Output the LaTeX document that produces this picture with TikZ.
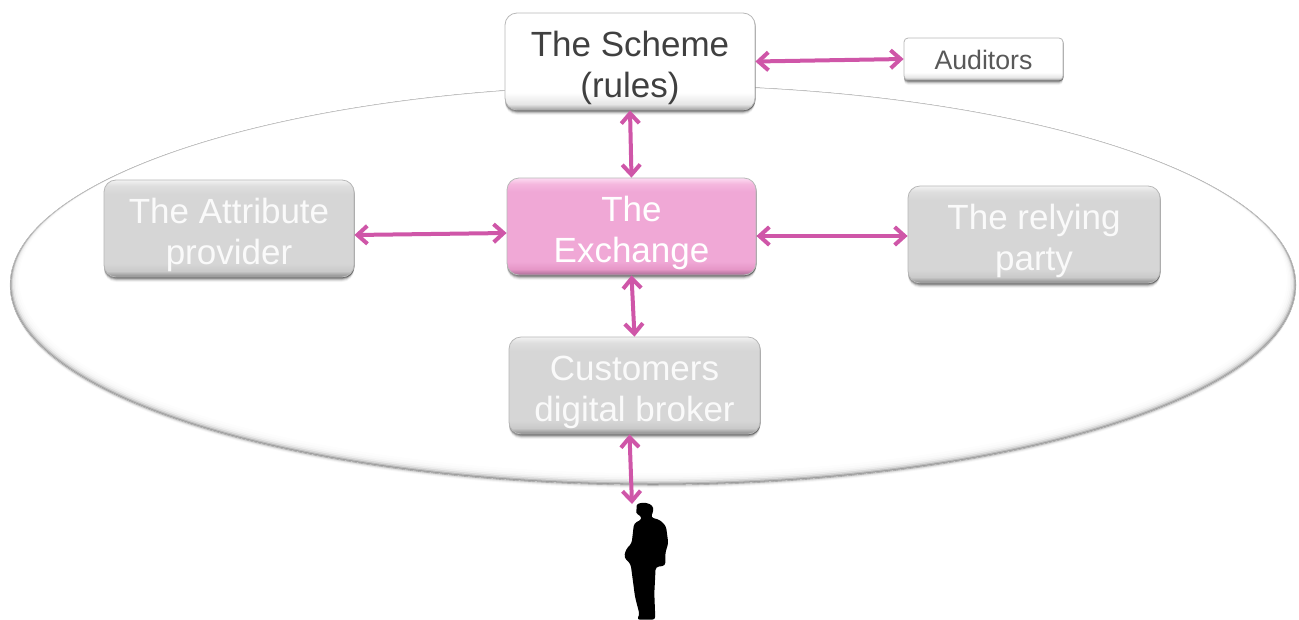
\documentclass[tikz,border=0pt]{standalone}
\usepackage{fontspec}
\setmainfont{Liberation Sans}
\usetikzlibrary{arrows.meta,calc,shadows}
\definecolor{arrowpink}{HTML}{CF56A8}
\pgfdeclareverticalshading{grayface}{100bp}{rgb(0bp)=(.50,.50,.50);rgb(25bp)=(.50,.50,.50);rgb(26bp)=(.62,.62,.62);rgb(28bp)=(.79,.79,.79);rgb(32bp)=(.84,.84,.84);rgb(68bp)=(.84,.84,.84);rgb(72bp)=(.87,.87,.87);rgb(75bp)=(.95,.95,.95);rgb(100bp)=(.95,.95,.95)}
\pgfdeclareverticalshading{pinkface}{100bp}{rgb(0bp)=(.58,.38,.52);rgb(25bp)=(.58,.38,.52);rgb(26bp)=(.74,.48,.65);rgb(28bp)=(.90,.59,.78);rgb(32bp)=(.94,.66,.84);rgb(68bp)=(.94,.66,.84);rgb(72bp)=(.96,.72,.87);rgb(75bp)=(.99,.86,.95);rgb(100bp)=(.99,.86,.95)}
\pgfdeclareverticalshading{whiteface}{100bp}{rgb(0bp)=(.58,.58,.58);rgb(25bp)=(.58,.58,.58);rgb(26bp)=(.72,.72,.72);rgb(28bp)=(.90,.90,.90);rgb(34bp)=(1,1,1);rgb(75bp)=(1,1,1);rgb(100bp)=(1,1,1)}
\newcommand{\lowered}[2]{\smash{\raisebox{#1}{\begin{tabular}{@{}c@{}}#2\end{tabular}}}}
\tikzset{
  softshadow/.style={
    general shadow={shadow yshift=-5pt,fill=black,opacity=.04},
    general shadow={shadow yshift=-4pt,fill=black,opacity=.08},
    general shadow={shadow yshift=-3pt,fill=black,opacity=.14},
    general shadow={shadow yshift=-2pt,fill=black,opacity=.22},
    general shadow={shadow yshift=-1pt,shadow xshift=.8pt,fill=black,opacity=.32}},
  card/.style={rounded corners=12pt,inner sep=0pt,softshadow,font=\fontsize{35}{41}\selectfont,draw=black!28,line width=.8pt},
  graycard/.style={card,shading=grayface,text=white!98!black},
  pinkcard/.style={card,shading=pinkface,text=white},
  whitecard/.style={card,shading=whiteface,text=black!75},
  link/.style={draw=arrowpink,line width=4pt,{Straight Barb[length=10pt,width=18pt,line width=4pt]}-{Straight Barb[length=10pt,width=18pt,line width=4pt]},shorten <=0pt,shorten >=0pt}
}
\begin{document}
\begin{tikzpicture}[x=1pt,y=-1pt]
\useasboundingbox (0,0) rectangle (1299,619);
% ring: soft shadow outside, dark band, fading to white inside
\foreach \o/\g in {5/.03,4/.06,3/.10,2/.16}{
  \fill[black,opacity=\g] (653,{284+\o}) ellipse [x radius=642,y radius=199];
}
\fill[black!66] (653,285) ellipse [x radius=643,y radius=200];
\fill[black!42] (653,285) ellipse [x radius=642.6,y radius=199.7];
\fill[white,opacity=.35] (653,284.6) ellipse [x radius=642,y radius=199.1];
\fill[white,opacity=.45] (653,284.0) ellipse [x radius=641,y radius=198.5];
\fill[white,opacity=.5] (653,283.2) ellipse [x radius=640,y radius=197.7];
\fill[white,opacity=.5] (653,282.4) ellipse [x radius=638.6,y radius=196.9];
\fill[white,opacity=.55] (653,281.6) ellipse [x radius=637.2,y radius=196.1];
\fill[white,opacity=.6] (653,280.6) ellipse [x radius=635.6,y radius=195.1];
\fill[white] (653,279.4) ellipse [x radius=634,y radius=193.9];
\draw[black!22,line width=.6pt] (653,285) ellipse [x radius=642.8,y radius=199.8];
% boxes
\node[whitecard,minimum width=250pt,minimum height=97pt] (scheme) at (630,61.5) {\lowered{-13.25pt}{The Scheme\\(rules)}};
\node[whitecard,rounded corners=4pt,minimum width=159pt,minimum height=42pt,font=\fontsize{26.7}{30}\selectfont,text=black!65] (aud) at (983.5,59) {\lowered{-10.7pt}{Auditors}};
\node[pinkcard,minimum width=249pt,minimum height=97pt] (exch) at (631.5,226.5) {\lowered{-13.25pt}{The\\Exchange}};
\node[graycard,minimum width=250pt,minimum height=97pt] (attr) at (229,228.5) {\lowered{-13.25pt}{The Attribute\\provider}};
\node[graycard,minimum width=252pt,minimum height=97pt] (rely) at (1034,234.5) {\lowered{-13.25pt}{The relying\\party}};
\node[graycard,minimum width=251pt,minimum height=97pt] (cust) at (634.5,385.5) {\lowered{-13.25pt}{Customers\\digital broker}};
% person
\begin{scope}[shift={(560,420)},x=.3333pt,y=-.3333pt]
\fill[black,rounded corners=3pt] (255,247) -- (278,256) -- (281,272) -- (272,292) -- (300,300) -- (318,318) -- (325,370) -- (316,398) -- (316,437) -- (287,441) -- (283,520) -- (286,599) -- (230,599) -- (239,585) -- (225,530) -- (212,432) -- (192,412) -- (198,388) -- (215,370) -- (222,310) -- (246,298) -- (241,286) -- (226,280) -- (232,264) -- (228,252) -- cycle;
\end{scope}
\coordinate (head) at (632,504);
% connectors
\draw[link] (scheme.east) -- (aud.west);
\draw[link] (scheme.south) -- (exch.north);
\draw[link] ([yshift=-6.5pt]attr.east) -- ([yshift=-6.5pt]exch.west);
\draw[link] ([yshift=-9.5pt]exch.east) -- ([yshift=-1.5pt]rely.west);
\draw[link] (exch.south) -- (cust.north);
\draw[link] ([xshift=-5pt]cust.south) -- (head);
\end{tikzpicture}
\end{document}
